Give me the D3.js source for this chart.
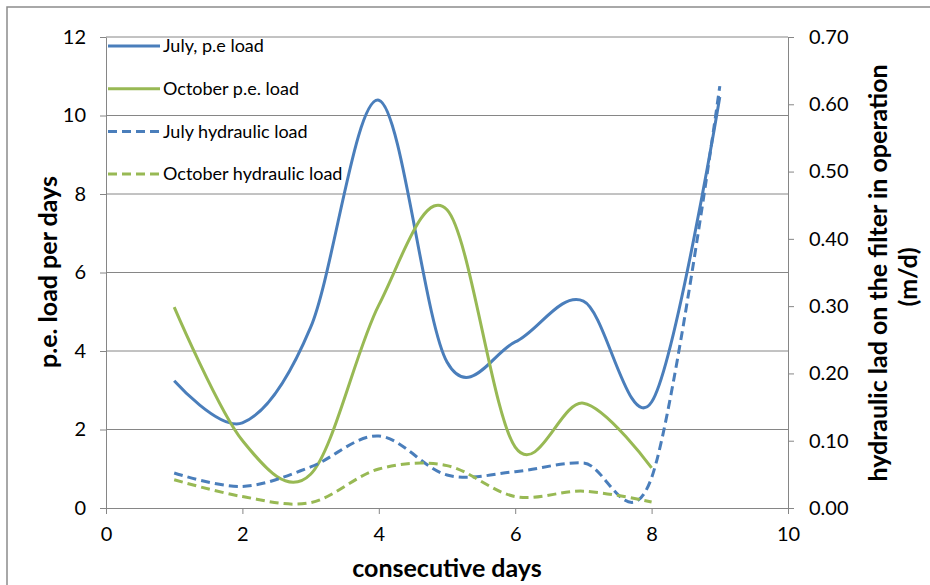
<!DOCTYPE html>
<html>
<head>
<meta charset="utf-8">
<script src="https://cdn.jsdelivr.net/npm/d3@7"></script>
<style>
  body { margin: 0; background: #fff; }
  text { font-family: Lato, "Open Sans", sans-serif; fill: #000; }
</style>
</head>
<body>
<div id="chart"></div>
<script>
// days on the x axis
const days = [1, 2, 3, 4, 5, 6, 7, 8, 9]

// p.e. load per day (left axis)
const julyPe = [3.24, 2.17, 4.6, 10.39, 3.72, 4.23, 5.27, 2.7, 10.47]
const octPe = [5.12, 1.72, 0.86, 5.17, 7.6, 1.55, 2.67, 1.02]

// hydraulic load m/d (right axis)
const julyHyd = [0.052, 0.032, 0.061, 0.107, 0.049, 0.054, 0.067, 0.045, 0.627]
const octHyd = [0.042, 0.017, 0.008, 0.058, 0.063, 0.017, 0.025, 0.009]

const xTicks = [0, 2, 4, 6, 8, 10]
const leftTicks = [0, 2, 4, 6, 8, 10, 12]
const rightTicks = [0, 0.1, 0.2, 0.3, 0.4, 0.5, 0.6, 0.7]

const series = [
	{ name: 'July, p.e load', values: julyPe, axis: 'left', color: '#4a7ebb', dash: null },
	{ name: 'October p.e. load', values: octPe, axis: 'left', color: '#98b954', dash: null },
	{ name: 'July hydraulic load', values: julyHyd, axis: 'right', color: '#4a7ebb', dash: '9,5' },
	{ name: 'October hydraulic load', values: octHyd, axis: 'right', color: '#98b954', dash: '9,5' }
]

const W = 930, H = 585
const plotL = 106, plotR = 788, plotT = 37, plotB = 508
const grey = '#868686'

const svg = d3.select('#chart').append('svg')
	.attr('width', W)
	.attr('height', H)

// outer chart border (only top/left visible in the picture)
svg.append('rect')
	.attr('x', 7).attr('y', 7)
	.attr('width', W).attr('height', H)
	.attr('fill', 'none')
	.attr('stroke', '#8c8c8c')
	.attr('stroke-width', 1.5)

const x = d3.scaleLinear().domain([0, 10]).range([plotL, plotR])
const yL = d3.scaleLinear().domain([0, 12]).range([plotB, plotT])
const yR = d3.scaleLinear().domain([0, 0.7]).range([plotB, plotT])

// gridlines
svg.append('g')
	.selectAll('line')
	.data(leftTicks.filter(d => d > 0))
	.join('line')
		.attr('x1', plotL).attr('x2', plotR)
		.attr('y1', d => yL(d)).attr('y2', d => yL(d))
		.attr('stroke', grey)
		.attr('stroke-width', 1)

function styleAxis (g) {
	g.select('.domain').attr('stroke', grey)
	g.selectAll('.tick line').attr('stroke', grey)
	g.selectAll('.tick text')
		.style('font-family', 'Lato, "Open Sans", sans-serif')
		.style('font-size', '20px')
		.attr('fill', '#000')
}

// x axis
svg.append('g')
	.attr('transform', `translate(0,${plotB})`)
	.call(d3.axisBottom(x).tickValues(xTicks).tickSize(6).tickPadding(13).tickSizeOuter(0))
	.call(styleAxis)

// left axis
svg.append('g')
	.attr('transform', `translate(${plotL},0)`)
	.call(d3.axisLeft(yL).tickValues(leftTicks).tickSize(6).tickPadding(14).tickSizeOuter(0))
	.call(styleAxis)

// right axis
svg.append('g')
	.attr('transform', `translate(${plotR},0)`)
	.call(d3.axisRight(yR).tickValues(rightTicks).tickFormat(d3.format('.2f')).tickSize(6).tickPadding(15).tickSizeOuter(0))
	.call(styleAxis)

// lines, smoothed like the spreadsheet
series.forEach(s => {
	const yScale = s.axis === 'left' ? yL : yR
	const line = d3.line()
		.x((d, i) => x(days[i]))
		.y(d => yScale(d))
		.curve(d3.curveCardinal.tension(0))

	svg.append('path')
		.datum(s.values)
		.attr('d', line)
		.attr('fill', 'none')
		.attr('stroke', s.color)
		.attr('stroke-width', 3)
		.attr('stroke-dasharray', s.dash)
})

// legend
const legend = svg.append('g')
	.selectAll('g')
	.data(series)
	.join('g')
		.attr('transform', (d, i) => `translate(108,${46 + i * 42.7})`)

legend.append('line')
	.attr('x1', 0).attr('x2', 52)
	.attr('stroke', d => d.color)
	.attr('stroke-width', 3)
	.attr('stroke-dasharray', d => d.dash)

legend.append('text')
	.attr('x', 55)
	.attr('dy', '0.35em')
	.style('font-size', '18px')
	.text(d => d.name)

// axis titles
svg.append('text')
	.attr('x', (plotL + plotR) / 2)
	.attr('y', 577)
	.attr('text-anchor', 'middle')
	.style('font-size', '25px')
	.style('font-weight', 'bold')
	.text('consecutive days')

svg.append('text')
	.attr('transform', 'translate(57,272) rotate(-90)')
	.attr('text-anchor', 'middle')
	.style('font-size', '25px')
	.style('font-weight', 'bold')
	.text('p.e. load per days')

svg.append('text')
	.attr('transform', 'translate(887,273) rotate(-90)')
	.attr('text-anchor', 'middle')
	.style('font-size', '25px')
	.style('font-weight', 'bold')
	.text('hydraulic lad on the filter in operation')

svg.append('text')
	.attr('transform', 'translate(917,277) rotate(-90)')
	.attr('text-anchor', 'middle')
	.style('font-size', '25px')
	.style('font-weight', 'bold')
	.text('(m/d)')
</script>
</body>
</html>
